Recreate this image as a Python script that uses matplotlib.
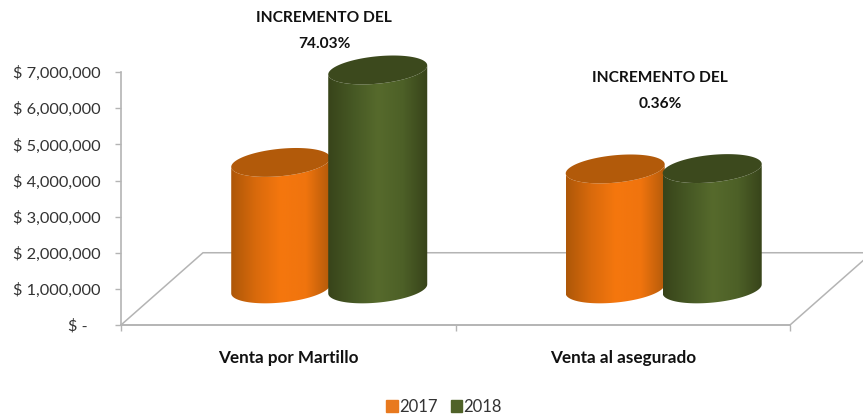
import matplotlib.pyplot as plt
import matplotlib.patches as mpatches
from matplotlib.colors import LinearSegmentedColormap
import numpy as np

categories = ["Venta por Martillo", "Venta al asegurado"]
years = ["2017", "2018"]
values_2017 = [3500000, 3320000]
values_2018 = [6060000, 3330000]
yticks = [0, 1000000, 2000000, 3000000, 4000000, 5000000, 6000000, 7000000]
ylabels = ["$ -   ", "$ 1,000,000", "$ 2,000,000", "$ 3,000,000", "$ 4,000,000",
           "$ 5,000,000", "$ 6,000,000", "$ 7,000,000"]
notes = ["INCREMENTO DEL\n74.03%", "INCREMENTO DEL\n0.36%"]

W, H = 863, 418
FONT = "Lato"
TEXT = "#333333"
LINE = "#b4b4b4"

# floor depth and cylinder shape, in data units
depth_x = 0.245
depth_y = 2000000
half_w = 0.148
gap = 0.145
skew = 125000
half_h = 380000

orange = LinearSegmentedColormap.from_list("o", ["#ad5708", "#d96a0c", "#f5770e", "#f0740e", "#b25a0a"])
green = LinearSegmentedColormap.from_list("g", ["#38441a", "#465824", "#566a2c", "#4d6027", "#37431a"])


def ellipse(cx, cy, t):
    return cx + half_w * np.cos(t), cy + skew * np.cos(t) + half_h * np.sin(t)


def cylinder(ax, cx, value, cmap, top_color, z):
    cx = cx + depth_x / 2
    base = depth_y / 2
    top = base + value
    tb = np.linspace(np.pi, 2 * np.pi, 60)
    tt = np.linspace(0, -np.pi, 60)
    xb, yb = ellipse(cx, base, tb)
    xt, yt = ellipse(cx, top, tt)
    verts = np.column_stack([np.r_[xb, xt], np.r_[yb, yt]])
    body = mpatches.Polygon(verts, closed=True, fc="none", ec="none", zorder=z)
    ax.add_patch(body)
    grad = np.linspace(0, 1, 256).reshape(1, -1)
    im = ax.imshow(grad, cmap=cmap, aspect="auto", zorder=z, interpolation="bilinear",
                   extent=[cx - half_w, cx + half_w, base - half_h - skew, top + half_h + skew])
    im.set_clip_path(body)
    xe, ye = ellipse(cx, top, np.linspace(0, 2 * np.pi, 120))
    ax.fill(xe, ye, color=top_color, lw=0, zorder=z + 0.1)


fig = plt.figure(figsize=(W / 100, H / 100), dpi=100)
ax = fig.add_axes([121 / W, (H - 325) / H, (W - 121) / W, 289 / H])

ax.plot([0, depth_x, 2 + depth_x], [0, depth_y, depth_y], color=LINE, lw=1.1, zorder=1)
ax.plot([2, 2 + depth_x], [0, depth_y], color=LINE, lw=1.1, zorder=1)

for i in range(len(categories)):
    cylinder(ax, i + 0.5 - gap, values_2017[i], orange, "#b25a0a", 2)
    cylinder(ax, i + 0.5 + gap, values_2018[i], green, "#3c491d", 3)

ax.set_xlim(0, (W - 121) / 334.5)
ax.set_ylim(0, 8000000)

for s in ["top", "right"]:
    ax.spines[s].set_visible(False)
ax.spines["left"].set_bounds(0, 7000000)
ax.spines["bottom"].set_bounds(0, 2)
ax.spines["left"].set_color(LINE)
ax.spines["bottom"].set_color(LINE)
ax.spines["left"].set_linewidth(1.2)
ax.spines["bottom"].set_linewidth(1.4)

ax.set_yticks(yticks)
ax.set_yticklabels(ylabels, fontsize=11.8, family=FONT, color=TEXT)
ax.tick_params(axis="y", length=4, width=1, color=LINE, pad=11)

ax.set_xticks([0, 1, 2])
ax.set_xticklabels([])
ax.set_xticks([0.5, 1.5], minor=True)
ax.set_xticklabels(categories, minor=True, fontsize=12.3, family=FONT, weight="bold", color="#111111")
ax.tick_params(axis="x", which="major", length=4, width=1, color=LINE)
ax.tick_params(axis="x", which="minor", length=0, pad=18)

fig.text(324 / W, 1 - 31 / H, notes[0], ha="center", va="center", fontsize=11.2, family=FONT,
         weight="bold", color="#111111", linespacing=2.0)
fig.text(660 / W, 1 - 91 / H, notes[1], ha="center", va="center", fontsize=11.2, family=FONT,
         weight="bold", color="#111111", linespacing=2.0)

handles = [mpatches.Patch(color="#e8791e"), mpatches.Patch(color="#4f6228")]
fig.legend(handles, years, loc="center", bbox_to_anchor=(444 / W, 1 - 407 / H), ncol=2, frameon=False,
           prop={"family": FONT, "size": 12}, labelcolor=TEXT, handlelength=0.7, handleheight=0.7,
           handletextpad=0.06, columnspacing=0.8)

fig.savefig("out.png", dpi=100)
